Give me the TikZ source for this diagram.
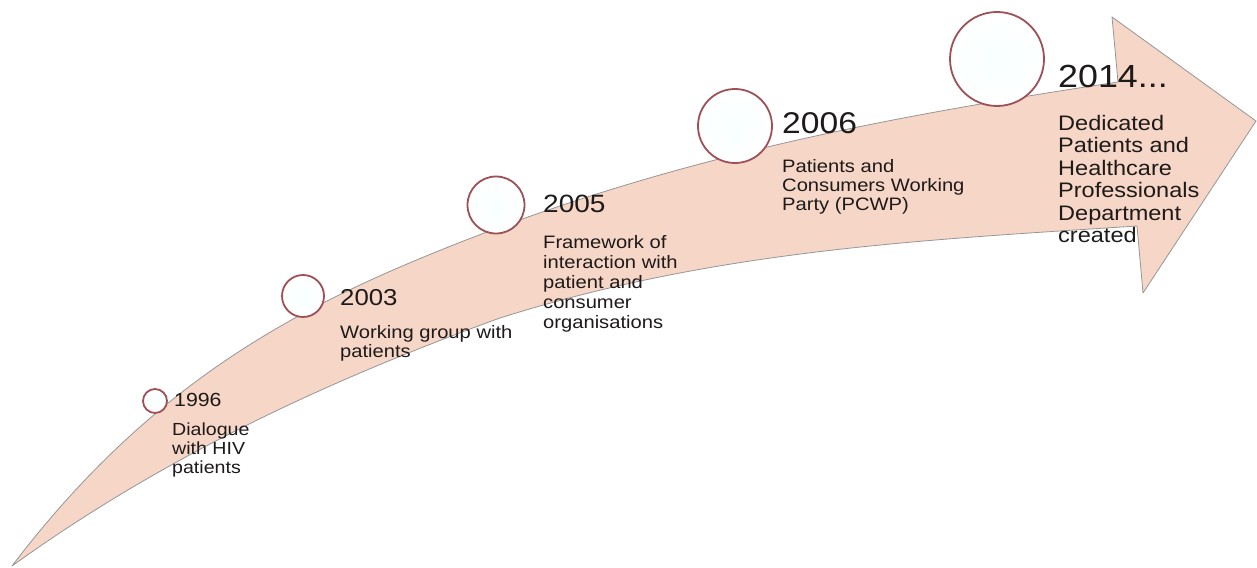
\documentclass[tikz,border=0pt]{standalone}
\usepackage{fontspec}
\setmainfont{Liberation Sans}
\newfontfamily\lsans[FakeStretch=1.12]{Liberation Sans}
\definecolor{peach}{RGB}{246,214,198}
\definecolor{edgegray}{RGB}{150,150,150}
\definecolor{ringred}{RGB}{158,80,88}
\definecolor{txt}{RGB}{30,26,26}
\tikzset{
  band/.style={fill=peach, draw=edgegray, line width=0.8pt, line join=round},
  ycirc/.style={circle, draw=ringred, line width=1.8pt, inner color=cyan!3, outer color=white, inner sep=0pt},
  year/.style={anchor=base west, inner sep=0pt, text=txt},
  desc/.style={anchor=north west, inner sep=0pt, align=left, text=txt}
}
\begin{document}
\begin{tikzpicture}[x=1pt,y=-1pt]
\useasboundingbox (0,0) rectangle (1257,567);
% curved arrow band
\coordinate (tail) at (12,566);
\coordinate (um) at (400,267);
\coordinate (ue) at (1118,82);
\coordinate (htop) at (1112,17);
\coordinate (tip) at (1256,121);
\coordinate (hbot) at (1143,293);
\coordinate (le) at (1137,226);
\coordinate (lm) at (500,318);
\draw[band] (tail) .. controls (138,400) and (270,323) .. (um)
  .. controls (645,162) and (873,119) .. (ue)
  -- (htop) -- (tip) -- (hbot) -- (le)
  .. controls (922,240) and (715,250) .. (lm)
  .. controls (340,376) and (170,452) .. (tail) -- cycle;
% circles
\node[ycirc, minimum size=24pt] (c1) at (155,401) {};
\node[ycirc, minimum size=42pt] (c2) at (303,296) {};
\node[ycirc, minimum size=57pt] (c3) at (496,205) {};
\node[ycirc, minimum size=74pt] (c4) at (735,126) {};
\node[ycirc, minimum size=94pt] (c5) at (997,59) {};
% years
\node[year, font=\lsans\fontsize{19}{21}\selectfont] (y1) at (174,406) {1996};
\node[year, font=\lsans\fontsize{23}{26}\selectfont] (y2) at (340,305) {2003};
\node[year, font=\lsans\fontsize{25}{28}\selectfont] (y3) at (543,212) {2005};
\node[year, font=\lsans\fontsize{30}{33}\selectfont] (y4) at (782,133) {2006};
\node[year, font=\lsans\fontsize{32}{35}\selectfont] (y5) at (1058,88) {2014...};
% descriptions
\node[desc, font=\lsans\fontsize{17.5}{19}\selectfont] (d1) at (172,423) {Dialogue\\with HIV\\patients};
\node[desc, font=\lsans\fontsize{18}{19}\selectfont] (d2) at (340,325) {Working group with\\patients};
\node[desc, font=\lsans\fontsize{18}{20}\selectfont] (d3) at (543,235) {Framework of\\interaction with\\patient and\\consumer\\organisations};
\node[desc, font=\lsans\fontsize{18}{19.2}\selectfont] (d4) at (782,159) {Patients and\\Consumers Working\\Party (PCWP)};
\node[desc, font=\lsans\fontsize{21}{22.5}\selectfont] (d5) at (1058,115) {Dedicated\\Patients and\\Healthcare\\Professionals\\Department\\created};
\end{tikzpicture}
\end{document}
